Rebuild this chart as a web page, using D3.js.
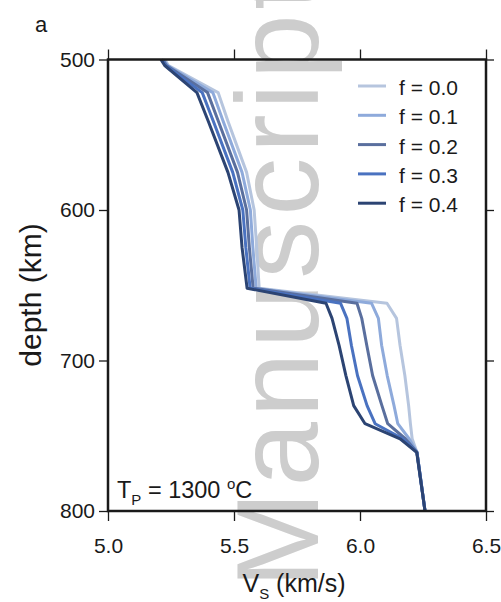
<!DOCTYPE html>
<html lang="en">
<head>
    <meta charset="UTF-8">
    <title>Vs profiles</title>
    <style>
        body {
            margin: 0;
            background: #fff;
            overflow: hidden;
        }
        svg {
            display: block;
        }
        text {
            font-family: "Liberation Sans", Arial, Helvetica, sans-serif;
            fill: #1a1a1a;
        }
        .axis path, .axis line {
            stroke: #1a1a1a;
        }
        .axis text {
            font-size: 21px;
        }
    </style>
</head>
<body>

<svg id="chart" width="501" height="602"></svg>

<script src="https://d3js.org/d3.v7.min.js"></script>
<script>
    // depth grid (km) and Vs (km/s) for each melt fraction
    const depth = [500, 504, 522, 541, 575, 600, 625, 652, 662, 672, 690, 710, 730, 742, 752, 761, 800];
    const vsF00 = [5.225, 5.24, 5.437, 5.476, 5.55, 5.58, 5.59, 5.60, 6.107, 6.145, 6.159, 6.178, 6.193, 6.20, 6.207, 6.226, 6.258];
    const vsF01 = [5.221, 5.236, 5.416, 5.457, 5.532, 5.565, 5.575, 5.588, 6.046, 6.073, 6.086, 6.108, 6.135, 6.15, 6.195, 6.226, 6.258];
    const vsF02 = [5.217, 5.232, 5.395, 5.438, 5.514, 5.55, 5.561, 5.576, 5.988, 6.007, 6.027, 6.05, 6.087, 6.11, 6.18, 6.226, 6.258];
    const vsF03 = [5.213, 5.229, 5.374, 5.418, 5.495, 5.535, 5.547, 5.564, 5.923, 5.948, 5.966, 5.99, 6.028, 6.06, 6.17, 6.226, 6.258];
    const vsF04 = [5.21, 5.225, 5.353, 5.398, 5.476, 5.52, 5.532, 5.552, 5.865, 5.889, 5.917, 5.944, 5.975, 6.02, 6.159, 6.225, 6.258];

    const labels = ["f = 0.0", "f = 0.1", "f = 0.2", "f = 0.3", "f = 0.4"];
    const colors = ["#b6c5de", "#8eaadb", "#5a6f9e", "#4a72c0", "#2c4473"];
    const xTicks = [5.0, 5.5, 6.0, 6.5];
    const yTicks = [500, 600, 700, 800];

    const series = [vsF00, vsF01, vsF02, vsF03, vsF04].map((vs, i) => ({
        label: labels[i],
        color: colors[i],
        points: vs.map((v, j) => [v, depth[j]])
    }));

    const svg = d3.select("#chart");
    const plotL = 108, plotR = 486, plotT = 59.5, plotB = 511;

    const x = d3.scaleLinear().domain([5.0, 6.5]).range([plotL, plotR]);
    const y = d3.scaleLinear().domain([500, 800]).range([plotT, plotB]);

    // watermark behind everything
    svg.append("text")
        .attr("transform", "translate(318,588) rotate(-90)")
        .style("font-size", "116px")
        .style("letter-spacing", "4.8px")
        .style("fill", "#cdcdcd")
        .text("Manuscript");

    // curves
    const line = d3.line()
        .x(d => x(d[0]))
        .y(d => y(d[1]));

    svg.append("g")
        .selectAll("path")
        .data(series)
        .enter()
        .append("path")
        .attr("d", d => line(d.points))
        .attr("fill", "none")
        .attr("stroke", d => d.color)
        .attr("stroke-width", 3)
        .attr("stroke-linejoin", "round");

    // axes
    const tickLen = 10;
    svg.append("g").attr("class", "axis")
        .attr("transform", `translate(0,${plotB})`)
        .call(d3.axisBottom(x).tickValues(xTicks).tickSize(tickLen).tickPadding(17).tickFormat(d3.format(".1f")));
    svg.append("g").attr("class", "axis")
        .attr("transform", `translate(0,${plotT})`)
        .call(d3.axisTop(x).tickValues(xTicks).tickSize(tickLen).tickFormat(""));
    svg.append("g").attr("class", "axis")
        .attr("transform", `translate(${plotL},0)`)
        .call(d3.axisLeft(y).tickValues(yTicks).tickSize(tickLen - 1).tickPadding(4));
    svg.append("g").attr("class", "axis")
        .attr("transform", `translate(${plotR},0)`)
        .call(d3.axisRight(y).tickValues(yTicks).tickSize(tickLen - 2).tickFormat(""));

    svg.selectAll(".axis .domain").remove();
    svg.selectAll(".axis .tick line").attr("stroke-width", 1.3);

    svg.append("rect")
        .attr("x", plotL).attr("y", plotT)
        .attr("width", plotR - plotL).attr("height", plotB - plotT)
        .attr("fill", "none")
        .attr("stroke", "#1a1a1a")
        .attr("stroke-width", 2.5);

    // legend
    const legend = svg.append("g")
        .selectAll("g")
        .data(series)
        .enter()
        .append("g")
        .attr("transform", (d, i) => `translate(358,${86 + i * 29.3})`);
    legend.append("line")
        .attr("x1", 0).attr("x2", 28)
        .attr("stroke", d => d.color)
        .attr("stroke-width", 3);
    legend.append("text")
        .attr("x", 41).attr("y", 9)
        .style("font-size", "21px")
        .text(d => d.label);

    // annotation
    const tp = svg.append("text")
        .attr("x", 117).attr("y", 498)
        .style("font-size", "23.5px");
    tp.append("tspan").text("T");
    tp.append("tspan").attr("dy", 7).style("font-size", "15px").text("P");
    tp.append("tspan").attr("dy", -7).text(" = 1300 ");
    tp.append("tspan").attr("dy", -9).style("font-size", "15px").text("o");
    tp.append("tspan").attr("dy", 9).text("C");

    // axis titles
    const xl = svg.append("text")
        .attr("x", 294).attr("y", 592)
        .attr("text-anchor", "middle")
        .style("font-size", "25px");
    xl.append("tspan").text("V");
    xl.append("tspan").attr("dy", 7).style("font-size", "15px").text("S");
    xl.append("tspan").attr("dy", -7).text(" (km/s)");

    svg.append("text")
        .attr("transform", "translate(41,295) rotate(-90)")
        .attr("text-anchor", "middle")
        .style("font-size", "30px")
        .text("depth (km)");

    svg.append("text")
        .attr("x", 35).attr("y", 32)
        .style("font-size", "22px")
        .text("a");
</script>

</body>
</html>
